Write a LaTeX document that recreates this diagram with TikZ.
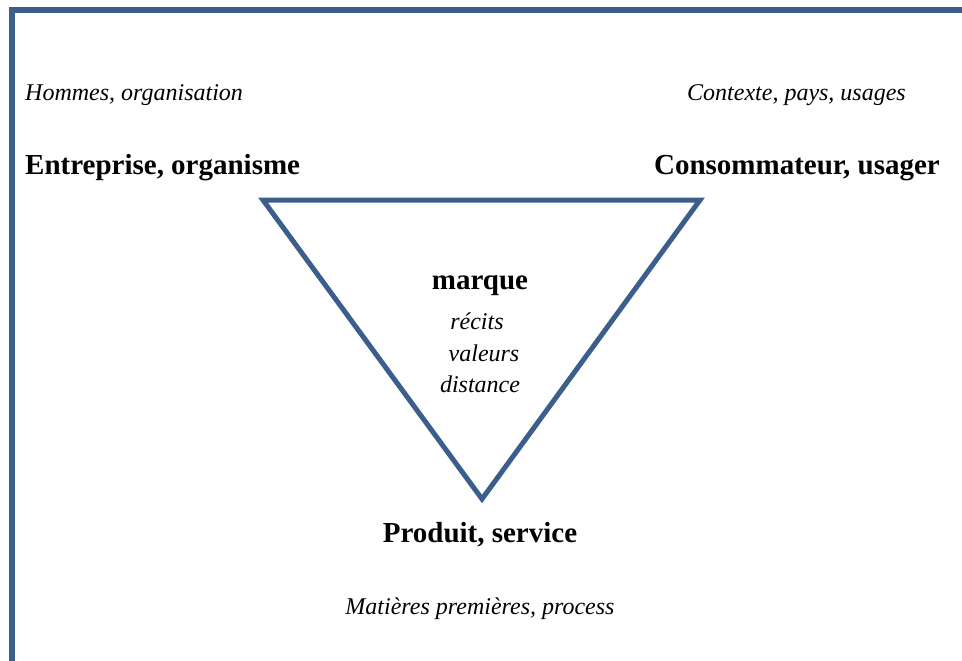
\documentclass[tikz,border=0pt]{standalone}
\usepackage{fontspec}
\setmainfont{Liberation Serif}
\definecolor{frameblue}{RGB}{59,94,140}
\begin{document}
\begin{tikzpicture}[x=1pt,y=-1pt,
  bigl/.style={font=\fontsize{29}{33}\selectfont\bfseries, inner sep=0pt},
  smalll/.style={font=\fontsize{24}{32}\selectfont\itshape, inner sep=0pt},
  edge/.style={draw=frameblue, line width=5pt}]
\useasboundingbox (0,0) rectangle (962,661);
% frame
\draw[draw=frameblue, line width=5.5pt] (12,661) -- (12,10) -- (962,10);
% triangle
\coordinate (tl) at (263,200);
\coordinate (tr) at (700,200);
\coordinate (bt) at (482,499);
\draw[edge, line join=miter] (tl) -- (tr) -- (bt) -- cycle;
% labels
\node[smalll, anchor=west] (hom) at (25,95) {Hommes, organisation};
\node[smalll, anchor=east] (ctx) at (906,95) {Contexte, pays, usages};
\node[bigl, anchor=west] (ent) at (25,168) {Entreprise, organisme};
\node[bigl, anchor=east] (con) at (940,168) {Consommateur, usager};
\node[bigl] (mar) at (480,286) {marque};
\node[smalll] (rec) at (477,321) {récits};
\node[smalll] (val) at (484,353) {valeurs};
\node[smalll] (dis) at (480,384) {distance};
\node[bigl] (pro) at (480,535) {Produit, service};
\node[smalll] (mat) at (480,609) {Matières premières, process};
\end{tikzpicture}
\end{document}
